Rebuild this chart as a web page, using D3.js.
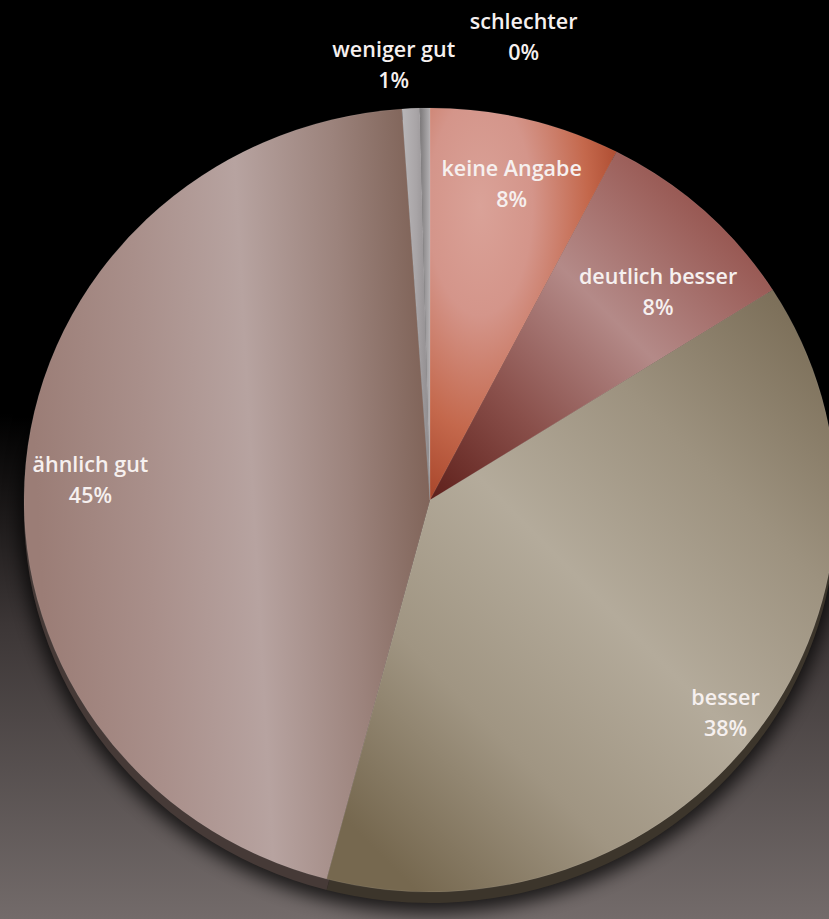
<!DOCTYPE html>
<html>
<head>
<meta charset="utf-8">
<script src="https://cdn.jsdelivr.net/npm/d3@7"></script>
<style>
  html, body { margin: 0; padding: 0; background: #000; overflow: hidden; }
  svg { display: block; }
</style>
</head>
<body>
<svg id="chart" width="829" height="919"></svg>
<script>
// Answer categories, in clockwise order from 12 o'clock
const categories = ["keine Angabe", "deutlich besser", "besser", "ähnlich gut", "weniger gut", "schlechter"];
// Share of answers in percent
const shares = [7.6, 8.4, 38.1, 44.8, 0.7, 0.4];

// Fill style for each slice (gradients in bounding-box units)
const sliceFills = [
  { type: "radial", cx: 0.27, cy: 0.25, r: 0.8,
    stops: [[0, "#daa298"], [0.35, "#d4958a"], [0.72, "#c4684c"], [1, "#a8452a"]] },
  { type: "linear", x1: 0, y1: 1, x2: 0.84, y2: 0.14,
    stops: [[0, "#5e1f1a"], [0.3, "#8a504b"], [0.62, "#b48a88"], [1, "#95534d"]] },
  { type: "linear", x1: 0.93, y1: 0.06, x2: 0.15, y2: 0.975,
    stops: [[0, "#7d705a"], [0.25, "#9d927f"], [0.5, "#b4ab9b"], [0.75, "#a09582"], [1, "#76684f"]] },
  { type: "linear", x1: 0.975, y1: 0.25, x2: 0.015, y2: 0.35,
    stops: [[0, "#806459"], [0.2, "#9c837c"], [0.45, "#b7a3a0"], [0.72, "#a98f8a"], [1, "#9b7d76"]] },
  { type: "linear", x1: 0, y1: 0, x2: 1, y2: 0,
    stops: [[0, "#b9b6b8"], [0.5, "#a9a5a7"], [1, "#8e8a8c"]] },
  { type: "linear", x1: 0, y1: 0, x2: 1, y2: 0,
    stops: [[0, "#7b7879"], [1, "#b3b0b2"]] }
];
// Side (rim) colour of each slice
const rimFills = ["#6a2c1c", "#4e2623", "#3c352b", "#463a37", "#5a5758", "#4c4a4b"];
// Label nudges from the slice centroid, in pixels
const labelNudge = [[0, 8], [-5, 38], [17, 16], [4, 11], [-20, -102], [98, -130]];

const W = 829, H = 919;
const cx = 430, cy = 500;          // pie centre
const R = 406;                     // horizontal radius
const tilt = 392 / 406;            // vertical squash of the tilted pie
const rimDepth = 11;

const svg = d3.select("#chart");
const defs = svg.append("defs");

// Background: black fading into warm grey towards the bottom
const bg = defs.append("linearGradient").attr("id", "bg")
  .attr("x1", 0).attr("y1", 0).attr("x2", 0).attr("y2", 1);
[[0, "#000"], [0.45, "#000"], [0.68, "#3c3636"], [1, "#736b6a"]].forEach(([o, c]) =>
  bg.append("stop").attr("offset", o).attr("stop-color", c));
svg.append("rect").attr("width", W).attr("height", H).attr("fill", "url(#bg)");

// Soft drop shadow under the pie
defs.append("filter").attr("id", "shadow")
  .attr("x", "-20%").attr("y", "-20%").attr("width", "140%").attr("height", "140%")
  .append("feGaussianBlur").attr("stdDeviation", 9);

sliceFills.forEach((f, i) => {
  const g = f.type === "radial"
    ? defs.append("radialGradient").attr("id", "fill" + i)
        .attr("cx", f.cx).attr("cy", f.cy).attr("r", f.r)
    : defs.append("linearGradient").attr("id", "fill" + i)
        .attr("x1", f.x1).attr("y1", f.y1).attr("x2", f.x2).attr("y2", f.y2);
  f.stops.forEach(([o, c]) => g.append("stop").attr("offset", o).attr("stop-color", c));
});

const pie = d3.pie().sort(null).value(d => d);
const arcs = pie(shares);
const arc = d3.arc().innerRadius(0).outerRadius(R);

// shadow
svg.append("ellipse")
  .attr("cx", cx).attr("cy", cy + rimDepth + 6)
  .attr("rx", R + 4).attr("ry", R * tilt + 4)
  .attr("fill", "#000").attr("opacity", 0.75)
  .attr("filter", "url(#shadow)");

// rim (pie thickness)
svg.append("g")
  .attr("transform", `translate(${cx},${cy + rimDepth}) scale(1,${tilt})`)
  .selectAll("path").data(arcs).join("path")
  .attr("d", arc)
  .attr("fill", (d, i) => rimFills[i]);

// top face
svg.append("g")
  .attr("transform", `translate(${cx},${cy}) scale(1,${tilt})`)
  .selectAll("path").data(arcs).join("path")
  .attr("d", arc)
  .attr("fill", (d, i) => `url(#fill${i})`)
  .attr("stroke", "rgba(255,255,255,0.12)")
  .attr("stroke-width", 0.6);

// labels
const labelArc = d3.arc().innerRadius(R * 0.85).outerRadius(R * 0.85);
const labels = svg.append("g")
  .attr("font-family", "'Open Sans', 'Noto Sans', sans-serif")
  .attr("font-size", 21.5)
  .attr("font-weight", 600)
  .attr("fill", "#f6f0ef")
  .attr("text-anchor", "middle");

arcs.forEach((d, i) => {
  const [x, y] = labelArc.centroid(d);
  const px = cx + x + labelNudge[i][0];
  const py = cy + y * tilt + labelNudge[i][1];
  const t = labels.append("text").attr("transform", `translate(${px},${py})`);
  t.append("tspan").attr("x", 0).attr("y", -15.5).attr("dy", "0.35em").text(categories[i]);
  t.append("tspan").attr("x", 0).attr("y", 15.5).attr("dy", "0.35em")
    .text(Math.round(shares[i]) + "%");
});
</script>
</body>
</html>
